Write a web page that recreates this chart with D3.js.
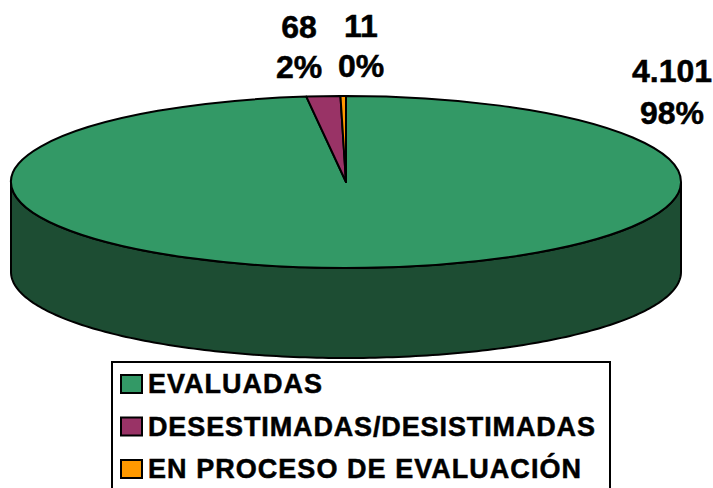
<!DOCTYPE html>
<html>
  <head>
    <meta charset="utf-8">
    <title>Evaluadas</title>
    <style>
      html, body { margin: 0; padding: 0; background: #fff; overflow: hidden; }
      text { font-family: 'Liberation Sans', Arial, sans-serif; font-weight: bold; fill: #000; stroke: #000; stroke-width: 0.5px; }
    </style>
  </head>
  <body>
    <svg id="svg" width="713" height="488"></svg>
    <script src="https://cdn.jsdelivr.net/npm/d3@7"></script>
    <script>
      const categories = ['EVALUADAS', 'DESESTIMADAS/DESISTIMADAS', 'EN PROCESO DE EVALUACIÓN'];
      const values = [4101, 68, 11];
      const valueLabels = ['4.101', '68', '11'];
      const percentLabels = ['98%', '2%', '0%'];
      const colors = ['#339966', '#993366', '#ff9900'];

      const cx = 346;
      const cy = 182;
      const rx = 335;
      const ry = 86;
      const depth = 90;

      const svg = d3.select('#svg');

      // Side wall of the cylinder, front half of the ellipse
      const angles = d3.range(0, 181).map((d) => (d * Math.PI) / 180);
      const side = d3
        .area()
        .x((a) => cx + rx * Math.cos(a))
        .y0((a) => cy + ry * Math.sin(a))
        .y1((a) => cy + depth + ry * Math.sin(a));
      svg
        .append('path')
        .attr('d', side(angles))
        .attr('fill', '#1d4d33')
        .attr('stroke', '#000')
        .attr('stroke-width', 2);

      // Top face: a normal pie squashed into an ellipse
      const pie = d3.pie().sort(null).value((d) => d);
      const arc = d3.arc().innerRadius(0).outerRadius(rx);
      svg
        .append('g')
        .attr('transform', `translate(${cx}, ${cy}) scale(1, ${ry / rx})`)
        .selectAll('path')
        .data(pie(values))
        .join('path')
        .attr('d', arc)
        .attr('fill', (d, i) => colors[i])
        .attr('stroke', '#000')
        .attr('stroke-width', 2)
        .attr('stroke-linejoin', 'round')
        .attr('vector-effect', 'non-scaling-stroke');

      // Data labels
      const labelX = [672, 299, 361];
      const labelY = [82, 38, 37];
      const percentY = [124, 78, 77];
      const labels = svg
        .append('g')
        .selectAll('g')
        .data(values)
        .join('g')
        .attr('text-anchor', 'middle')
        .style('font-size', '32px');
      labels
        .append('text')
        .attr('x', (d, i) => labelX[i])
        .attr('y', (d, i) => labelY[i])
        .text((d, i) => valueLabels[i]);
      labels
        .append('text')
        .attr('x', (d, i) => labelX[i])
        .attr('y', (d, i) => percentY[i])
        .text((d, i) => percentLabels[i]);

      // Legend box runs off the bottom of the page
      svg
        .append('rect')
        .attr('x', 112)
        .attr('y', 362)
        .attr('width', 498)
        .attr('height', 140)
        .attr('fill', '#fff')
        .attr('stroke', '#000')
        .attr('stroke-width', 2);

      const legendY = d3.scalePoint().domain(categories).range([393, 478]);
      const legendWidth = [174, 447, 433];
      const legend = svg
        .append('g')
        .selectAll('g')
        .data(categories)
        .join('g')
        .attr('transform', (d) => `translate(0, ${legendY(d)})`);
      legend
        .append('rect')
        .attr('x', 121)
        .attr('y', -18)
        .attr('width', 21)
        .attr('height', 18)
        .attr('fill', (d, i) => colors[i])
        .attr('stroke', '#000')
        .attr('stroke-width', 2);
      legend
        .append('text')
        .attr('x', 148)
        .attr('y', 0)
        .attr('textLength', (d, i) => legendWidth[i])
        .attr('lengthAdjust', 'spacing')
        .style('font-size', '27px')
        .text((d) => d);
    </script>
  </body>
</html>
